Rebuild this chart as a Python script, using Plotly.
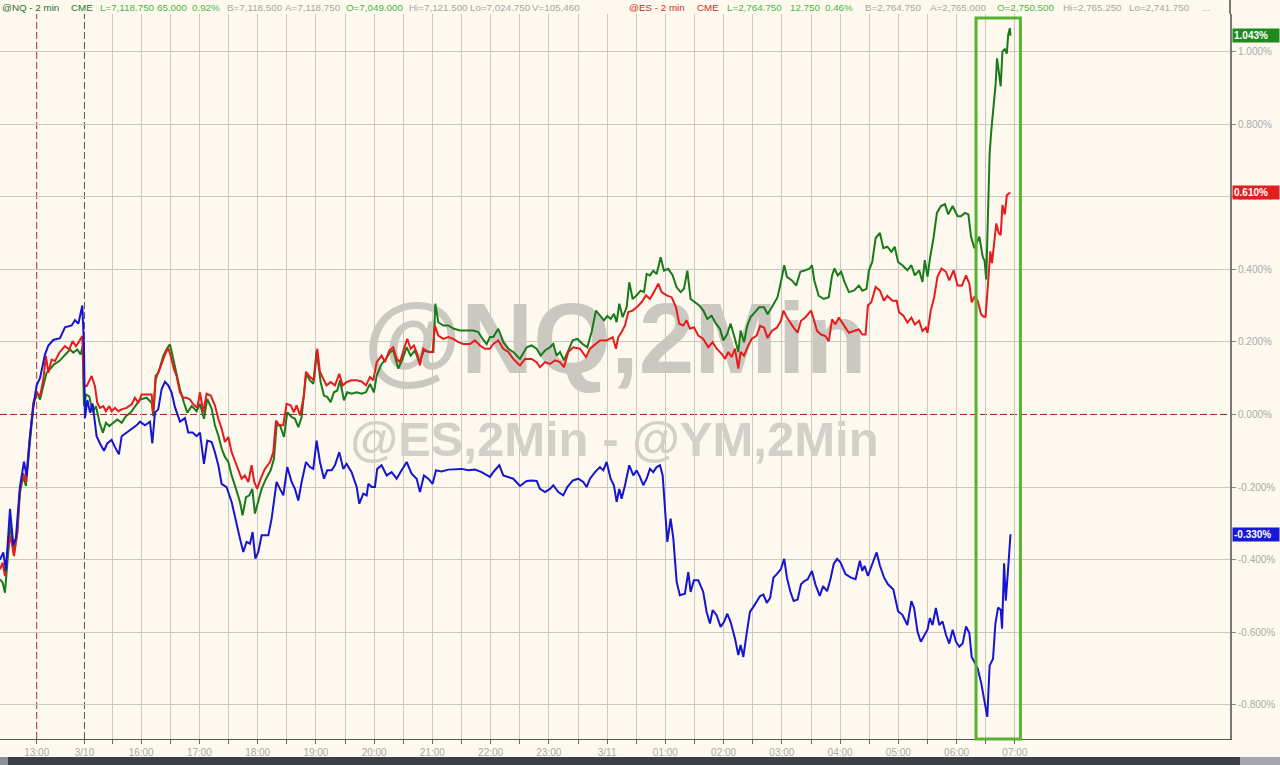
import plotly.graph_objects as go

# x = minutes relative to 16:00 on 3/10 (compressed 2-min bar session axis), y = % change
YM_T = [
    -145.4, -142.0, -139.3, -135.1, -131.7, -129.0, -124.9, -120.7, -118.0, -114.5,
    -111.1, -107.7, -104.2, -99.1, -95.6, -90.5, -83.6, -78.5, -71.6, -68.2,
    -64.7, -60.6, -58.9, -57.9, -55.4, -52.7, -50.0, -45.9, -42.4, -38.3,
    -34.9, -30.4, -27.0, -22.9, -20.1, -15.0, -9.8, -4.7, -1.2, 3.9,
    9.1, 11.5, 14.2, 17.6, 21.1, 24.5, 27.9, 31.4, 34.8, 40.0,
    45.1, 48.5, 53.0, 57.1,
    60.6, 64.7, 68.1, 72.6, 76.0, 79.5, 82.9, 88.0, 93.2, 98.3,
    101.8, 105.2, 108.6, 112.1, 114.8, 117.6, 120.7, 124.1, 127.5, 131.0,
    134.4, 136.8, 139.5, 143.0, 146.4, 150.5, 155.0, 158.4, 161.9, 165.3,
    169.8, 173.9, 177.3, 180.7, 184.2, 188.3, 191.7, 196.2, 199.6, 204.1,
    208.2, 211.6, 216.8, 222.0, 224.7, 228.8, 232.3, 234.0, 237.4, 240.8,
    243.2, 247.7, 252.9, 258.0, 263.2, 268.3, 273.5, 278.6, 283.8, 287.2,
    291.3, 295.8, 300.2, 303.7, 309.5, 316.4, 323.2, 330.1, 337.0, 343.8,
    350.7, 355.9,
    359.3, 362.7, 368.9, 373.0, 378.2, 383.3, 390.2, 397.1, 402.2, 407.4,
    410.8, 416.0, 421.1, 424.5, 429.7, 434.8, 439.0, 444.5, 450.3, 455.4,
    458.9, 462.3, 467.5, 472.6, 476.0, 479.5, 483.6, 487.0, 489.8, 492.5,
    494.9, 498.4, 502.8, 507.0, 510.4, 513.8, 517.2, 520.7, 524.1, 527.5,
    531.0, 534.4, 537.2, 539.6, 542.0, 545.4, 548.2, 551.6, 554.9, 560.1,
    563.6, 566.0, 569.4, 573.9, 579.0, 582.5, 585.9, 588.7, 592.8, 596.9,
    600.3, 603.8, 607.2, 611.7, 615.1, 617.5, 620.3, 623.7, 627.1, 630.6,
    634.0,
    637.6, 641.0, 644.5, 647.9, 651.4, 654.8, 659.0, 662.4, 665.2, 668.6,
    672.1, 676.2, 679.7, 683.1, 686.6, 691.0, 694.5, 699.0, 702.4, 706.6,
    710.0, 713.4, 716.9, 720.3, 725.5, 730.7, 735.9, 740.3, 742.8, 745.2,
    748.6, 753.1, 757.6, 761.0, 765.2, 769.3, 774.8, 779.7, 784.1, 789.3,
    793.4, 796.2, 799.7, 803.1, 806.6, 810.0, 812.4, 815.2, 818.6, 822.1,
    825.5, 829.0, 832.4, 835.9, 839.3, 842.8, 846.2, 849.7, 853.1, 855.5,
    858.3, 861.7, 865.2, 868.6,
    871.6, 874.0, 877.5, 879.9, 882.7, 885.4, 886.8, 888.9, 890.6, 893.1, 895.5,
]
YM_V = [
    -0.40, -0.38, -0.43, -0.26, -0.36, -0.34, -0.20, -0.13, -0.17, -0.06,
    0.02, 0.08, 0.10, 0.165, 0.19, 0.205, 0.21, 0.24, 0.245, 0.26,
    0.25, 0.30, 0.19, -0.01, 0.04, 0.005, 0.03, -0.06, -0.08, -0.10,
    -0.08, -0.07, -0.09, -0.11, -0.06, -0.05, -0.04, -0.03, -0.02, -0.03,
    -0.02, -0.08, 0.005, 0.014, 0.07, 0.09, 0.08, 0.06, 0.02, -0.02,
    -0.01, -0.05, -0.05, -0.06,
    -0.050, -0.136, -0.072, -0.076, -0.104, -0.140, -0.191, -0.200, -0.241, -0.305,
    -0.342, -0.379, -0.351, -0.356, -0.324, -0.397, -0.379, -0.333, -0.333, -0.333,
    -0.287, -0.232, -0.186, -0.205, -0.223, -0.145, -0.186, -0.205, -0.237, -0.186,
    -0.131, -0.145, -0.150, -0.072, -0.131, -0.177, -0.154, -0.154, -0.140, -0.104,
    -0.150, -0.136, -0.159, -0.200, -0.246, -0.218, -0.223, -0.191, -0.200, -0.200,
    -0.150, -0.140, -0.168, -0.159, -0.177, -0.154, -0.131, -0.163, -0.177, -0.214,
    -0.168, -0.177, -0.191, -0.154, -0.157, -0.152, -0.150, -0.150, -0.154, -0.152,
    -0.159, -0.168,
    -0.172, -0.159, -0.140, -0.168, -0.172, -0.177, -0.197, -0.183, -0.182, -0.183,
    -0.205, -0.214, -0.205, -0.195, -0.214, -0.223, -0.200, -0.182, -0.177, -0.186,
    -0.200, -0.177, -0.159, -0.145, -0.154, -0.131, -0.177, -0.195, -0.241, -0.205,
    -0.232, -0.195, -0.140, -0.168, -0.154, -0.172, -0.195, -0.177, -0.150, -0.159,
    -0.145, -0.140, -0.168, -0.269, -0.351, -0.287, -0.342, -0.461, -0.498, -0.494,
    -0.434, -0.489, -0.457, -0.457, -0.489, -0.544, -0.576, -0.539, -0.553, -0.585,
    -0.572, -0.549, -0.572, -0.617, -0.663, -0.635, -0.668, -0.604, -0.544, -0.530,
    -0.517,
    -0.500, -0.496, -0.519, -0.505, -0.449, -0.440, -0.426, -0.398, -0.449, -0.487,
    -0.514, -0.510, -0.468, -0.459, -0.454, -0.431, -0.468, -0.500, -0.473, -0.487,
    -0.454, -0.412, -0.398, -0.407, -0.440, -0.449, -0.454, -0.403, -0.431, -0.417,
    -0.445, -0.412, -0.380, -0.417, -0.449, -0.468, -0.482, -0.542, -0.552, -0.580,
    -0.514, -0.533, -0.598, -0.626, -0.607, -0.593, -0.561, -0.580, -0.533, -0.580,
    -0.570, -0.607, -0.631, -0.593, -0.626, -0.640, -0.631, -0.584, -0.602, -0.668,
    -0.682, -0.700, -0.738, -0.784,
    -0.833, -0.692, -0.673, -0.577, -0.532, -0.538, -0.590, -0.410, -0.513, -0.423, -0.330,
]

ES_T = [
    -145.4, -142.7, -140.3, -137.9, -134.5, -131.0, -127.6, -124.9, -121.4, -118.7,
    -115.2, -111.1, -107.7, -104.2, -100.8, -98.1, -95.6, -92.2, -88.7, -84.3,
    -78.5, -74.0, -70.6, -67.2, -63.7, -60.6, -58.9, -56.1, -51.0, -47.6,
    -45.2, -42.4, -39.0, -36.3, -32.8, -30.4, -27.0, -23.5, -20.1, -15.0,
    -9.8, -6.4, -2.9, 0.5, 5.6, 10.8, 12.5, 14.9, 17.7, 21.1,
    24.5, 27.9, 30.4, 33.8, 36.5, 40.0, 43.4, 46.8, 50.3, 53.7,
    57.8,
    60.6, 64.0, 67.4, 71.6, 76.0, 79.5, 82.9, 86.3, 89.8, 93.2,
    98.3, 103.5, 106.9, 110.4, 113.8, 116.5, 119.6, 123.1, 127.5, 132.7,
    136.1, 138.9, 142.3, 146.4, 149.8, 154.0, 157.4, 160.1, 163.6, 167.7,
    169.8, 173.9, 178.0, 181.4, 184.2, 187.6, 191.0, 195.2, 199.6, 204.1,
    207.5, 211.6, 216.8, 222.0, 227.1, 231.6, 235.7, 239.1, 242.6, 247.7,
    251.1, 255.6, 259.7, 263.2, 266.6, 270.7, 274.1, 277.6, 281.0, 284.4,
    287.2, 290.6, 295.8, 300.2, 302.6, 306.1, 311.2, 316.4, 321.5, 326.7,
    331.8, 338.7, 343.8, 349.0, 354.1,
    359.3, 362.7, 367.9, 373.0, 378.2, 383.3, 390.2, 395.4, 402.2, 407.4,
    410.8, 416.0, 421.1, 426.3, 431.4, 435.5, 440.0, 445.1, 452.0, 458.2,
    462.3, 467.5, 472.6, 479.5, 485.7, 489.1, 491.5, 494.9, 498.4, 501.8,
    506.3, 510.4, 515.5, 520.0, 524.1, 528.2, 532.7, 536.1, 541.3, 546.4,
    550.9, 554.3, 558.4, 561.9, 565.3, 569.4, 573.9, 579.0, 584.2, 588.7,
    592.8, 598.0, 601.4, 604.8, 608.2, 611.7, 615.1, 617.5, 621.0, 625.4,
    628.9, 634.0,
    637.6, 641.7, 645.2, 649.7, 654.8, 659.0, 661.7, 665.2, 669.3, 672.1,
    676.2, 679.7, 684.1, 690.0, 692.8, 696.2, 700.3, 704.8, 708.3, 711.7,
    715.2, 718.6, 722.1, 725.5, 729.0, 734.1, 739.3, 742.8, 746.2, 748.6,
    752.1, 756.6, 761.0, 765.2, 768.6, 773.8, 778.3, 780.7, 785.2, 789.3,
    793.4, 796.9, 801.4, 804.8, 808.3, 810.0, 813.4, 816.9, 820.3, 824.5,
    829.0, 832.4, 836.9, 841.0, 845.5, 849.7, 853.1, 855.5, 858.3, 861.7,
    865.2,
    867.7, 869.8, 872.3, 874.7, 876.4, 878.5, 880.9, 883.4, 885.4, 887.2,
    889.6, 891.7, 893.8, 895.5,
]
ES_V = [
    -0.427, -0.408, -0.445, -0.381, -0.335, -0.390, -0.326, -0.206, -0.161, -0.188,
    -0.078, 0.032, 0.060, 0.050, 0.096, 0.161, 0.115, 0.151, 0.147, 0.170,
    0.188, 0.179, 0.202, 0.188, 0.202, 0.216, 0.078, 0.078, 0.106, 0.078,
    0.032, 0.018, 0.023, 0.009, 0.023, 0.009, 0.018, 0.009, 0.014, 0.018,
    0.028, 0.046, 0.032, 0.055, 0.055, 0.055, 0.005, 0.106, 0.115, 0.142,
    0.165, 0.183, 0.161, 0.124, 0.106, 0.060, 0.046, 0.046, 0.041, 0.028,
    0.018,
    0.061, 0.006, 0.057, 0.052, 0.025, -0.012, -0.039, -0.076, -0.062, -0.104,
    -0.140, -0.177, -0.168, -0.186, -0.140, -0.186, -0.205, -0.177, -0.150, -0.131,
    -0.104, -0.017, -0.030, -0.030, 0.029, 0.025, 0.006, 0.025, -0.003, 0.052,
    0.117, 0.103, 0.094, 0.181, 0.117, 0.098, 0.080, 0.089, 0.080, 0.112,
    0.080, 0.089, 0.094, 0.094, 0.091, 0.080, 0.103, 0.094, 0.144, 0.162,
    0.144, 0.176, 0.185, 0.153, 0.144, 0.181, 0.208, 0.181, 0.190, 0.167,
    0.135, 0.181, 0.172, 0.172, 0.245, 0.217, 0.208, 0.213, 0.208, 0.199,
    0.194, 0.194, 0.204, 0.190, 0.181,
    0.181, 0.194, 0.204, 0.181, 0.172, 0.153, 0.135, 0.153, 0.153, 0.144,
    0.130, 0.144, 0.139, 0.149, 0.144, 0.130, 0.172, 0.185, 0.181, 0.158,
    0.181, 0.194, 0.204, 0.204, 0.213, 0.181, 0.213, 0.227, 0.245, 0.282,
    0.286, 0.295, 0.309, 0.328, 0.318, 0.337, 0.360, 0.337, 0.328, 0.323,
    0.295, 0.250, 0.245, 0.259, 0.236, 0.240, 0.217, 0.208, 0.185, 0.199,
    0.181, 0.167, 0.153, 0.172, 0.158, 0.181, 0.126, 0.172, 0.162, 0.190,
    0.208, 0.217,
    0.244, 0.239, 0.211, 0.230, 0.239, 0.258, 0.286, 0.267, 0.248, 0.239,
    0.225, 0.258, 0.267, 0.286, 0.262, 0.230, 0.220, 0.216, 0.202, 0.262,
    0.248, 0.267, 0.253, 0.239, 0.225, 0.230, 0.234, 0.220, 0.220, 0.300,
    0.309, 0.351, 0.341, 0.313, 0.327, 0.313, 0.313, 0.281, 0.272, 0.253,
    0.267, 0.248, 0.258, 0.230, 0.239, 0.225, 0.286, 0.323, 0.379, 0.402,
    0.393, 0.369, 0.397, 0.355, 0.355, 0.383, 0.360, 0.309, 0.323, 0.313,
    0.276,
    0.269, 0.269, 0.359, 0.449, 0.417, 0.474, 0.526, 0.500, 0.494, 0.577,
    0.551, 0.603, 0.609, 0.610,
]

NQ_T = [
    -145.4, -142.7, -140.3, -137.9, -134.5, -131.0, -127.6, -124.9, -121.4, -118.7,
    -115.2, -111.1, -107.7, -104.2, -100.8, -97.4, -94.0, -89.8, -84.3, -78.5,
    -73.3, -69.9, -65.8, -62.4, -60.3, -58.9, -56.8, -53.4, -50.0, -46.6,
    -42.8, -39.4, -36.3, -32.8, -28.7, -24.6, -20.1, -15.7, -10.8, -6.4,
    -1.2, 5.6, 10.8, 12.5, 14.9, 18.7, 22.8, 26.9, 29.7, 32.4,
    35.9, 40.0, 44.1, 47.5, 52.0, 57.1,
    60.6, 64.7, 68.1, 72.6, 76.0, 79.5, 82.9, 86.3, 89.8, 93.2,
    97.7, 101.8, 104.5, 108.0, 111.4, 114.5, 117.2, 120.7, 124.1, 128.6,
    133.4, 136.8, 139.5, 143.0, 147.1, 150.5, 155.0, 158.4, 161.9, 165.3,
    169.8, 173.9, 177.3, 180.7, 184.9, 188.3, 191.7, 195.2, 198.6, 202.0,
    204.8, 208.9, 212.3, 216.8, 222.0, 227.1, 231.6, 235.7, 239.8, 242.6,
    247.7, 252.2, 256.3, 259.7, 264.9, 269.3, 273.5, 277.6, 282.0, 286.5,
    291.3, 297.5, 301.0, 303.0, 306.1, 311.2, 316.4, 322.2, 328.4, 335.3,
    342.2, 347.3, 351.7, 355.9,
    359.3, 362.7, 367.9, 373.0, 378.2, 383.3, 390.2, 397.1, 402.2, 407.4,
    411.5, 416.0, 421.1, 424.5, 428.0, 431.4, 435.5, 440.0, 444.5, 449.3,
    454.8, 459.6, 464.0, 468.5, 472.6, 476.7, 480.2, 483.6, 487.0, 489.8,
    492.5, 496.0, 500.1, 502.8, 506.3, 510.4, 514.5, 518.0, 520.7, 524.1,
    527.5, 531.0, 535.1, 538.5, 543.0, 547.5, 551.6, 555.7, 559.1, 562.6,
    566.0, 570.5, 574.9, 579.1, 583.2, 587.6, 592.1, 596.2, 599.7, 603.8,
    607.2, 611.7, 615.1, 617.5, 621.0, 624.4, 627.8, 632.3, 636.7,
    641.7, 645.2, 649.7, 653.1, 655.5, 659.0, 662.4, 665.2, 670.3, 674.8,
    679.0, 684.1, 688.6, 691.0, 693.4, 697.9, 703.1, 708.3, 711.7, 714.1,
    717.6, 721.0, 724.5, 729.0, 734.1, 739.3, 742.8, 747.2, 749.7, 753.1,
    756.6, 761.0, 764.5, 768.6, 772.8, 776.2, 779.7, 784.1, 789.3, 793.4,
    796.9, 801.4, 804.8, 807.2, 810.0, 812.8, 816.2, 819.7, 823.8, 827.9,
    831.4, 835.9, 841.0, 844.5, 848.6, 852.1, 854.8, 858.3, 863.4, 866.9,
    868.8, 870.5, 872.3, 874.0, 875.7, 878.2, 880.2, 881.6, 883.4, 885.4,
    887.2, 889.6, 891.7, 893.1, 894.8, 895.5,
]
NQ_V = [
    -0.454, -0.463, -0.491, -0.408, -0.300, -0.381, -0.326, -0.216, -0.170, -0.197,
    -0.087, 0.023, 0.064, 0.041, 0.078, 0.115, 0.124, 0.138, 0.147, 0.165,
    0.179, 0.170, 0.179, 0.165, 0.188, 0.023, 0.055, 0.050, 0.005, 0.023,
    -0.023, -0.050, -0.023, -0.032, -0.023, -0.014, -0.023, -0.005, 0.005, 0.023,
    0.041, 0.046, 0.032, -0.005, 0.096, 0.124, 0.161, 0.183, 0.193, 0.161,
    0.115, 0.069, 0.032, 0.005, 0.023, 0.009,
    0.029, -0.012, 0.043, 0.016, -0.030, -0.058, -0.094, -0.117, -0.131, -0.168,
    -0.205, -0.241, -0.278, -0.228, -0.223, -0.205, -0.273, -0.241, -0.205, -0.177,
    -0.154, -0.122, -0.030, -0.030, -0.062, 0.006, -0.007, -0.012, -0.035, -0.007,
    0.112, 0.094, 0.084, 0.176, 0.089, 0.052, 0.048, 0.034, 0.061, 0.066,
    0.094, 0.039, 0.061, 0.057, 0.061, 0.057, 0.061, 0.084, 0.061, 0.107,
    0.139, 0.153, 0.172, 0.176, 0.126, 0.153, 0.185, 0.162, 0.176, 0.144,
    0.176, 0.172, 0.172, 0.305, 0.254, 0.245, 0.245, 0.236, 0.231, 0.231,
    0.231, 0.227, 0.208, 0.194,
    0.213, 0.213, 0.236, 0.199, 0.181, 0.172, 0.153, 0.185, 0.190, 0.181,
    0.162, 0.176, 0.185, 0.194, 0.162, 0.172, 0.149, 0.176, 0.204, 0.208,
    0.194, 0.185, 0.227, 0.286, 0.271, 0.259, 0.271, 0.263, 0.277, 0.254,
    0.305, 0.268, 0.295, 0.364, 0.318, 0.328, 0.341, 0.337, 0.387, 0.383,
    0.396, 0.387, 0.433, 0.396, 0.401, 0.383, 0.350, 0.337, 0.346, 0.396,
    0.318, 0.309, 0.300, 0.286, 0.263, 0.272, 0.250, 0.236, 0.204, 0.222,
    0.250, 0.208, 0.172, 0.231, 0.199, 0.245, 0.268, 0.282, 0.295,
    0.295, 0.276, 0.295, 0.313, 0.323, 0.365, 0.411, 0.379, 0.369, 0.355,
    0.393, 0.397, 0.402, 0.411, 0.369, 0.327, 0.318, 0.323, 0.383, 0.402,
    0.383, 0.393, 0.365, 0.337, 0.341, 0.355, 0.341, 0.346, 0.397, 0.420,
    0.486, 0.500, 0.458, 0.462, 0.448, 0.462, 0.420, 0.411, 0.397, 0.411,
    0.383, 0.397, 0.365, 0.425, 0.379, 0.434, 0.486, 0.555, 0.574, 0.579,
    0.551, 0.574, 0.546, 0.546, 0.555, 0.551, 0.490, 0.458, 0.490, 0.434,
    0.423, 0.372, 0.577, 0.718, 0.782, 0.846, 0.910, 0.981, 0.949, 0.904,
    1.000, 1.006, 0.994, 1.045, 1.064, 1.043,
]

assert len(YM_T) == len(YM_V), (len(YM_T), len(YM_V))
assert len(ES_T) == len(ES_V), (len(ES_T), len(ES_V))
assert len(NQ_T) == len(NQ_V), (len(NQ_T), len(NQ_V))

# axis definitions
X_RANGE = [-145.4, 1121.6]
Y_RANGE = [-0.894, 1.103]
GRID_T = list(range(-30, 901, 30))          # half-hour grid, 15:30 .. 07:00
SESSION_T = [-107.6, -58.4]                  # session breaks
SESSION_LBL = ["13:00", "3/10"]
HIGHLIGHT_T = [860.0, 905.7]                 # boxed move into 07:00
Y_TICKS = [-0.8, -0.6, -0.4, -0.2, 0.0, 0.2, 0.4, 0.6, 0.8, 1.0]


def hour_label(m):
    if m % 60:
        return ""
    if m == 480:
        return "3/11"
    return f"{(16 + m // 60) % 24:02d}:00"


XTICK_V = SESSION_T + GRID_T
XTICK_T = SESSION_LBL + [hour_label(m) for m in GRID_T]
Y_LBL = ["0.000%" if v == 0 else f"{v:.3f}%" for v in Y_TICKS]

BG = "#fdf9ee"
GRID = "#c9c7c0"
C_NQ = "#187a18"
C_ES = "#e61c1c"
C_YM = "#1414d2"
FONT = "Liberation Sans, Arial, sans-serif"

fig = go.Figure()

# watermarks (drawn first so the lines sit above them)
xspan = X_RANGE[1] - X_RANGE[0]
yspan = Y_RANGE[1] - Y_RANGE[0]
fig.add_trace(go.Scatter(
    x=[X_RANGE[0] + 0.5 * xspan], y=[Y_RANGE[0] + 0.540 * yspan],
    mode="text", text=["<b>@NQ,2Min</b>"],
    textfont=dict(family=FONT, size=100, color="#cbc8c1"),
    hoverinfo="skip", showlegend=False))
fig.add_trace(go.Scatter(
    x=[X_RANGE[0] + 0.4995 * xspan], y=[Y_RANGE[0] + 0.407 * yspan],
    mode="text", text=["<b>@ES,2Min - @YM,2Min</b>"],
    textfont=dict(family=FONT, size=49, color="#d3d0c9"),
    hoverinfo="skip", showlegend=False))

fig.add_trace(go.Scatter(x=NQ_T, y=NQ_V, mode="lines", line=dict(color=C_NQ, width=2),
                         name="@NQ", hoverinfo="skip"))
fig.add_trace(go.Scatter(x=ES_T, y=ES_V, mode="lines", line=dict(color=C_ES, width=2),
                         name="@ES", hoverinfo="skip"))
fig.add_trace(go.Scatter(x=YM_T, y=YM_V, mode="lines", line=dict(color=C_YM, width=2),
                         name="@YM", hoverinfo="skip"))
# empty trace to host the labelled overlay axes
fig.add_trace(go.Scatter(x=[], y=[], xaxis="x2", yaxis="y2", hoverinfo="skip", showlegend=False))

shapes = []
# zero line
shapes.append(dict(type="line", xref="paper", x0=0, x1=1, yref="y", y0=0, y1=0,
                   line=dict(color="#a11f1f", width=1, dash="7px,3px"), layer="below"))
# session break lines
shapes.append(dict(type="line", xref="x", x0=SESSION_T[0], x1=SESSION_T[0], yref="paper", y0=0, y1=1,
                   line=dict(color="#a8332b", width=1, dash="7px,3px"), layer="below"))
shapes.append(dict(type="line", xref="x", x0=SESSION_T[1], x1=SESSION_T[1], yref="paper", y0=0, y1=1,
                   line=dict(color="#555555", width=1, dash="7px,3px"), layer="below"))
# highlight box
shapes.append(dict(type="rect", xref="x", x0=HIGHLIGHT_T[0], x1=HIGHLIGHT_T[1],
                   yref="paper", y0=0, y1=0.9945,
                   line=dict(color="#58b22e", width=3), fillcolor="rgba(0,0,0,0)", layer="above"))
# right axis line continuing into header
shapes.append(dict(type="line", xref="paper", x0=1, x1=1, yref="paper", y0=1, y1=1 + 14 / 725,
                   line=dict(color="#777777", width=2)))
# bottom scrollbar strip
shapes.append(dict(type="rect", xref="paper", x0=8 / 1230, x1=1240 / 1230, yref="paper",
                   y0=-26 / 725, y1=-18 / 725, line=dict(width=0), fillcolor="#3b4045"))
shapes.append(dict(type="rect", xref="paper", x0=0, x1=8 / 1230, yref="paper",
                   y0=-26 / 725, y1=-18 / 725, line=dict(width=0), fillcolor="#8b9098"))
shapes.append(dict(type="rect", xref="paper", x0=1240 / 1230, x1=1280 / 1230, yref="paper",
                   y0=-26 / 725, y1=-18 / 725, line=dict(width=0), fillcolor="#a3a7ab"))

# header quote line
NQ_DK = "#2e6e2e"
LG = "#45b845"
GR = "#a6a6a6"
ES_RD = "#d02a2a"
HEADER = [
    ("@NQ - 2 min", 1, NQ_DK), ("CME", 70, NQ_DK), ("L=7,118.750", 99, LG), ("65.000", 156, LG),
    ("0.92%", 191, LG), ("B=7,118.500", 226, GR), ("A=7,118.750", 284, GR), ("O=7,049.000", 345, LG),
    ("Hi=7,121.500", 408, GR), ("Lo=7,024.750", 469, GR), ("V=105,460", 531, GR),
    ("@ES - 2 min", 628, ES_RD), ("CME", 696, ES_RD), ("L=2,764.750", 726, LG), ("12.750", 789, LG),
    ("0.46%", 824, LG), ("B=2,764.750", 864, GR), ("A=2,765.000", 929, GR), ("O=2,750.500", 996, LG),
    ("Hi=2,765.250", 1062, GR), ("Lo=2,741.750", 1128, GR), ("...", 1201, GR),
]
annotations = []
for txt, px, col in HEADER:
    annotations.append(dict(text=txt, xref="paper", x=px / 1230, xanchor="left",
                            yref="paper", y=1, yanchor="middle", yshift=7, showarrow=False,
                            borderpad=0, font=dict(family=FONT, size=9.8, color=col)))

# last-value tags
for series, col in ((NQ_V, "#1f8a1f"), (ES_V, "#e32020"), (YM_V, "#1818d8")):
    annotations.append(dict(text=f"<b>{series[-1]:.3f}%</b>", xref="paper", x=1, xanchor="left",
                            xshift=2, yref="y", y=series[-1], yanchor="middle", showarrow=False,
                            bgcolor=col, borderpad=1, width=44, align="left",
                            font=dict(family=FONT, size=10, color="white")))

fig.update_layout(
    width=1280, height=765,
    margin=dict(l=0, r=50, t=14, b=26),
    paper_bgcolor=BG, plot_bgcolor=BG,
    showlegend=False,
    xaxis=dict(range=X_RANGE, tickvals=GRID_T, showticklabels=False, showgrid=True,
               gridcolor=GRID, gridwidth=1, zeroline=False, ticks="", showline=False),
    xaxis2=dict(overlaying="x", anchor="y", side="bottom", range=X_RANGE,
                tickvals=XTICK_V, ticktext=XTICK_T, ticks="outside", ticklen=4,
                tickcolor="#666666", showgrid=False, zeroline=False, showline=True,
                linecolor="#555555", linewidth=1,
                tickfont=dict(family=FONT, size=10, color="#a9a9a9")),
    yaxis=dict(range=Y_RANGE, side="right", tickvals=[v for v in Y_TICKS if v != 0],
               showticklabels=False, showgrid=True, gridcolor=GRID, gridwidth=1,
               zeroline=False, ticks=""),
    yaxis2=dict(overlaying="y", anchor="x", side="right", range=Y_RANGE,
                tickvals=Y_TICKS, ticktext=Y_LBL, ticks="outside", ticklen=4,
                tickcolor="#888888", showgrid=False, zeroline=False, showline=True,
                linecolor="#777777", linewidth=2,
                tickfont=dict(family=FONT, size=10, color="#ababab")),
    shapes=shapes,
    annotations=annotations,
)

fig.write_html("out.html", config={"displayModeBar": False},
               post_script="document.body.style.margin='0px';document.body.style.overflow='hidden';")
